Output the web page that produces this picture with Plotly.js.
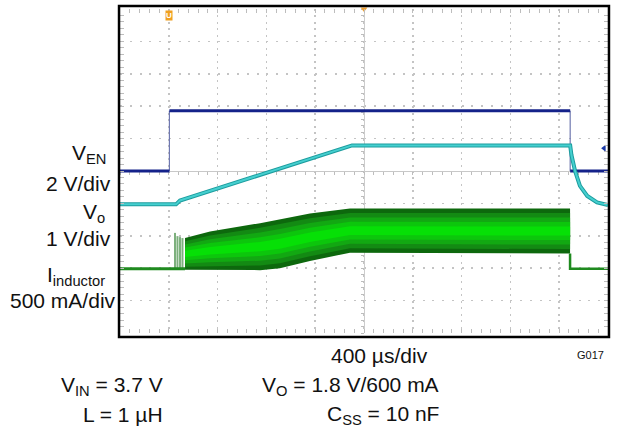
<!DOCTYPE html>
<html>
<head>
<meta charset="utf-8">
<script src="https://cdn.plot.ly/plotly-3.0.1.min.js"></script>
<style>html,body{margin:0;padding:0;background:#fff}#chart{width:618px;height:431px}</style>
</head>
<body>
<div id="chart"></div>
<script>
// time axis in microseconds (400 us/div, 10 div); signal axis in divisions (center = 0)
const venT = [0, 405, 405, 3690, 3690, 4000];
const venV = [0, 0, 1.86, 1.86, 0, 0];

const voT = [0, 459, 492, 1902, 3690, 3700, 3730, 3770, 3830, 3910, 4000];
const voV = [-1.03, -1.03, -0.91, 0.79, 0.79, 0.5, 0.0, -0.46, -0.77, -0.97, -1.05];

const ilIdle = -3.02;
const ilPreT = [0, 533];
const ilPostT = [3689, 3689, 4000];
const ilPostV = [-2.55, -3.02, -3.02];

const spikeT = [451, 471, 492, 512];
const spikeTop = [-1.91, -2.01, -2.04, -2.07];

const envT = [533, 738, 1148, 1311, 1557, 1885, 3689];
const envHi = [-2.07, -1.87, -1.61, -1.49, -1.31, -1.16, -1.16];
const envLo = [-3.05, -3.05, -3.06, -3.0, -2.78, -2.52, -2.55];

const FONT = 'Liberation Sans, Arial, sans-serif';
const traces = [];

// dummy trace for center axes
traces.push({x:[null], y:[null], xaxis:'x2', yaxis:'y2', mode:'lines', hoverinfo:'skip', showlegend:false});

// inductor current band (layered to mimic intensity)
const layers = [
  {f:1.0, c:'#0d680d'},
  {f:0.8, c:'#138a13'},
  {f:0.6, c:'#12a812'},
  {f:0.4, c:'#0cc60c'},
  {f:0.2, c:'#06e006'}
];
layers.forEach(L => {
  const lo = envT.map((_, i) => (envHi[i] + envLo[i]) / 2 - L.f * (envHi[i] - envLo[i]) / 2);
  const hi = envT.map((_, i) => (envHi[i] + envLo[i]) / 2 + L.f * (envHi[i] - envLo[i]) / 2);
  traces.push({x:envT, y:lo, mode:'lines', line:{width:0, color:L.c}, hoverinfo:'skip', showlegend:false});
  traces.push({x:envT, y:hi, mode:'lines', line:{width:0, color:L.c}, fill:'tonexty', fillcolor:L.c, hoverinfo:'skip', showlegend:false});
});

// startup spikes
const spX = [], spY = [];
spikeT.forEach((t, i) => { spX.push(t, t, null); spY.push(ilIdle, spikeTop[i], null); });
traces.push({x:spX, y:spY, mode:'lines', line:{width:2, color:'#7db07d'}, hoverinfo:'skip', showlegend:false});

// inductor idle baseline
traces.push({x:ilPreT, y:ilPreT.map(() => ilIdle), mode:'lines', line:{width:3, color:'#1f8a1f'}, hoverinfo:'skip', showlegend:false});
traces.push({x:ilPostT, y:ilPostV, mode:'lines', line:{width:2.5, color:'#1f8a1f'}, hoverinfo:'skip', showlegend:false});

// V_EN: thick levels, thin edges
const lvX = [], lvY = [], edX = [], edY = [];
for (let i = 0; i < venT.length - 1; i++) {
  if (venV[i] === venV[i + 1]) { lvX.push(venT[i], venT[i + 1], null); lvY.push(venV[i], venV[i + 1], null); }
  else { edX.push(venT[i], venT[i + 1], null); edY.push(venV[i], venV[i + 1], null); }
}
traces.push({x:edX, y:edY, mode:'lines', line:{width:1.2, color:'#6f78b0'}, hoverinfo:'skip', showlegend:false});
traces.push({x:lvX, y:lvY, mode:'lines', line:{width:3, color:'#14228a'}, hoverinfo:'skip', showlegend:false});

// V_o: darker outline + lighter core
traces.push({x:voT, y:voV, mode:'lines', line:{width:4, color:'#1c9c9e'}, hoverinfo:'skip', showlegend:false});
traces.push({x:voT, y:voV, mode:'lines', line:{width:2, color:'#45cfcf'}, hoverinfo:'skip', showlegend:false});

// scope markers
traces.push({x:[2000], y:[5.0], mode:'markers', marker:{symbol:'triangle-down', size:6, color:'#f0a030'}, cliponaxis:false, hoverinfo:'skip', showlegend:false});
traces.push({x:[3968], y:[0.70], mode:'markers', marker:{symbol:'triangle-left', size:6, color:'#1a3aa8'}, cliponaxis:false, hoverinfo:'skip', showlegend:false});

const tickCol = '#bdbdbd';
const gridCol = '#c4c4c4';

const ann = (text, x, y, xa, size, extra) => Object.assign({
  text, x, y, xref:'paper', yref:'paper', xanchor:xa, yanchor:'middle', showarrow:false,
  font:{family:FONT, size:size, color:'#111'}
}, extra || {});

const FS = 21;
const layout = {
  width:618, height:431,
  margin:{l:120, r:10, t:9, b:98},
  paper_bgcolor:'#fff', plot_bgcolor:'#fff',
  showlegend:false,
  xaxis:{range:[0,4000], dtick:400, tick0:0, showgrid:true, gridcolor:gridCol, gridwidth:1.5, griddash:'2px,4.48px',
    zeroline:false, showline:false, ticks:'inside', ticklen:4, tickcolor:tickCol, showticklabels:false, mirror:'ticks',
    minor:{dtick:80, tick0:0, ticks:'inside', ticklen:4, tickcolor:tickCol, showgrid:false}, fixedrange:true},
  yaxis:{range:[-5,5], dtick:1, tick0:0, showgrid:true, gridcolor:gridCol, gridwidth:1.5, griddash:'2px,7.76px',
    zeroline:true, zerolinecolor:'#c8c8c8', zerolinewidth:1,
    showline:false, ticks:'inside', ticklen:4, tickcolor:tickCol, showticklabels:false, mirror:'ticks',
    minor:{dtick:0.2, tick0:0, ticks:'inside', ticklen:4, tickcolor:tickCol, showgrid:false}, fixedrange:true},
  xaxis2:{overlaying:'x', anchor:'free', position:0.5, range:[0,4000], showgrid:false, zeroline:false,
    showline:false, ticks:'outside', ticklen:3, tickwidth:1, tickcolor:tickCol, dtick:80, tick0:0, showticklabels:false, layer:'below traces', fixedrange:true},
  yaxis2:{overlaying:'y', anchor:'free', position:0.5, range:[-5,5], showgrid:false, zeroline:false,
    showline:true, linecolor:'#cccccc', linewidth:1, ticks:'outside', ticklen:3, tickwidth:1, tickcolor:tickCol, dtick:0.2, tick0:0, showticklabels:false, layer:'below traces', fixedrange:true},
  shapes:[
    {type:'rect', xref:'paper', yref:'paper', x0:-0.002, x1:1.002, y0:-0.012, y1:1.009, line:{color:'#000', width:2.5}, layer:'above'}
  ],
  annotations:[
    ann('V<sub>EN</sub>', -0.0246, 0.552, 'right', FS),
    ann('2 V/div', -0.0143, 0.460, 'right', FS),
    ann('V<sub>o</sub>', -0.0266, 0.370, 'right', FS),
    ann('1 V/div', -0.0143, 0.293, 'right', FS),
    ann('I<sub>inductor</sub>', -0.0266, 0.176, 'right', FS),
    ann('500 mA/div', -0.0041, 0.0988, 'right', FS),
    ann('400 µs/div', 0.636, -0.068, 'right', FS),
    ann('G017', 0.996, -0.068, 'right', 11),
    ann('V<sub>IN</sub> = 3.7 V', 0.0922, -0.1636, 'right', FS),
    ann('V<sub>O</sub> = 1.8 V/600 mA', 0.658, -0.1636, 'right', FS),
    ann('L = 1 µH', 0.0922, -0.253, 'right', FS),
    ann('C<sub>SS</sub> = 10 nF', 0.658, -0.253, 'right', FS),
    {text:'<b>U</b>', x:405, y:4.8, xref:'x', yref:'y', showarrow:false, xanchor:'center', yanchor:'middle',
      font:{family:FONT, size:8, color:'#fff'}, bgcolor:'#f0a020', borderpad:0}
  ]
};

Plotly.newPlot('chart', traces, layout, {staticPlot:true, displayModeBar:false});
</script>
</body>
</html>
